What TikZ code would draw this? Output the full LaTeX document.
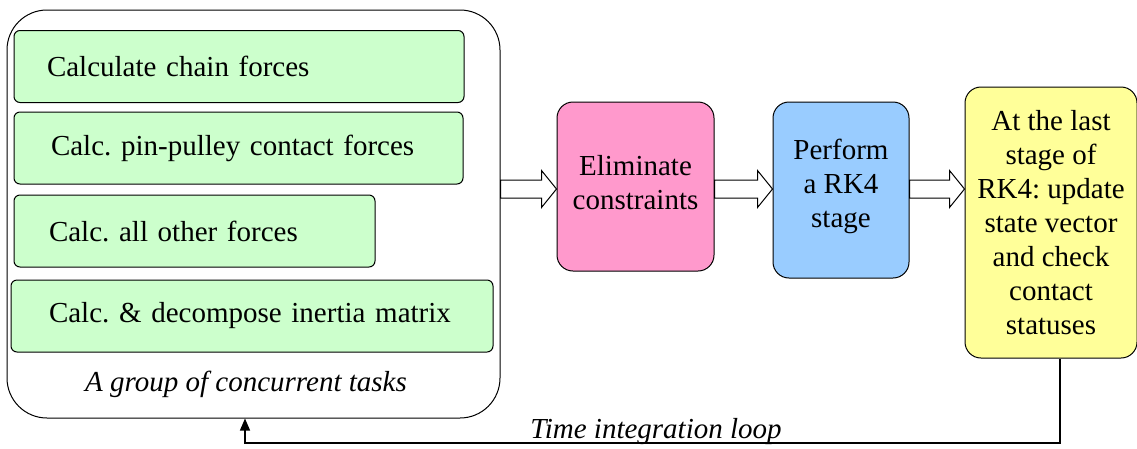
\documentclass[tikz,border=0pt]{standalone}
\usepackage{fontspec}
\setmainfont{Liberation Serif}
\usetikzlibrary{calc}
\usetikzlibrary{arrows.meta}
\usepackage{xcolor}
\frenchspacing

\definecolor{taskgreen}{RGB}{204,255,204}
\definecolor{elimpink}{RGB}{255,153,204}
\definecolor{stageblue}{RGB}{153,204,255}
\definecolor{updyellow}{RGB}{255,255,153}

\tikzset{
  task/.style={draw, line width=1pt, rounded corners=6, fill=taskgreen, align=left, minimum height=72, inner ysep=0},
  stepbox/.style={draw, line width=1pt, rounded corners=16, align=center, inner sep=0},
  blockarr/.style={draw, line width=1pt, fill=white, line join=miter},
}

\begin{document}
\begin{tikzpicture}[x=1pt,y=1pt,yscale=-1,xscale=1,font=\fontsize{29}{34}\selectfont]
\useasboundingbox (0,0) rectangle (1137,448);

%Rounded Rect: group of concurrent tasks
\node [draw, line width=1pt, rounded corners=40, minimum width=493, minimum height=408] (group) at (253.5,214) {};
% Text Node
\node [anchor=base] (grouplbl) at (246,391) {\itshape A group of concurrent tasks};

%Rounded Rect: the four tasks
\node [task, text width=384, inner xsep=33] (chain) at (239,66.5) {Calculate chain forces};
\node [task, text width=375, inner xsep=37] (pin) at (238.5,148) {Calc. pin-pulley contact forces};
\node [task, text width=291, inner xsep=35] (other) at (194.5,231) {Calc. all other forces\\[-22pt]};
\node [task, text width=406, inner xsep=38] (inertia) at (252,316) {Calc. \& decompose inertia matrix};

%Rounded Rect: steps
\node [stepbox, fill=elimpink, minimum width=157, minimum height=169] (elim) at (635.5,186.5) {Eliminate\\constraints\\[-26pt]};
\node [stepbox, fill=stageblue, minimum width=136, minimum height=176] (rk) at (841,190) {Perform\\a RK4\\stage\\[-20pt]};
\node [stepbox, fill=updyellow, minimum width=172, minimum height=271] (upd) at (1051,222.5) {At the last\\stage of\\RK4: update\\state vector\\and check\\contact\\statuses};

%Block Arrows
\coordinate (axis) at (0,189);
\foreach \src/\dst in {group/elim,elim/rk,rk/upd}
  \draw [blockarr] ($(\src.east |- axis)+(0,-9)$) -- ($(\dst.west |- axis)+(-15,-9)$) -- ($(\dst.west |- axis)+(-15,-18.5)$) -- (\dst.west |- axis) -- ($(\dst.west |- axis)+(-15,18.5)$) -- ($(\dst.west |- axis)+(-15,9)$) -- ($(\src.east |- axis)+(0,9)$) -- cycle;

%Straight Lines: time loop
\coordinate (loopR) at (1060,443);
\coordinate (loopL) at (245,443);
\draw [line width=1.2pt, -{Triangle[length=12,width=10]}] (upd.south -| loopR) -- (loopR) -- (loopL) -- (loopL |- group.south);
% Text Node
\node [anchor=base] (looplbl) at (656,438) {\itshape Time integration loop};

\end{tikzpicture}
\end{document}
